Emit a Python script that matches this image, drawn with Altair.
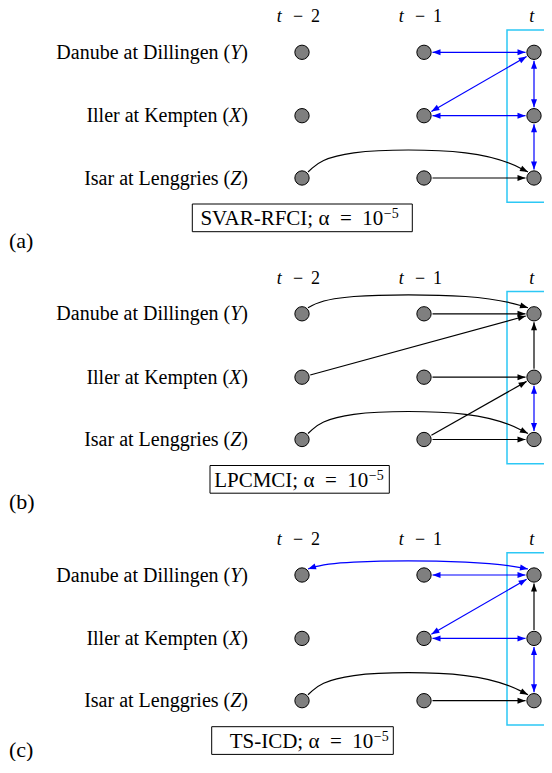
import math
import altair as alt
import pandas as pd

# ---------------- data ----------------
var_keys = ["Y", "X", "Z"]
var_names = ["Danube at Dillingen", "Iller at Kempten", "Isar at Lenggries"]
lags = [-2, -1, 0]
lag_digits = ["2", "1", ""]
methods = ["SVAR-RFCI", "LPCMCI", "TS-ICD"]
panel_tags = ["(a)", "(b)", "(c)"]
alpha_base = "; α\u2002=\u200210"
alpha_exp = "−5"

# edges: (source var, source lag, target var, target lag, kind)
edges_a = [("Y", -1, "Y", 0, "<->"), ("X", -1, "Y", 0, "<->"), ("X", -1, "X", 0, "<->"),
           ("X", 0, "Y", 0, "<->"), ("Z", 0, "X", 0, "<->"),
           ("Z", -2, "Z", 0, "->"), ("Z", -1, "Z", 0, "->")]
edges_b = [("Y", -2, "Y", 0, "->"), ("Y", -1, "Y", 0, "->"), ("X", -2, "Y", 0, "->"),
           ("X", 0, "Y", 0, "->"), ("X", -1, "X", 0, "->"), ("Z", -1, "X", 0, "->"),
           ("Z", 0, "X", 0, "<->"), ("Z", -2, "Z", 0, "->"), ("Z", -1, "Z", 0, "->")]
edges_c = [("Y", -2, "Y", 0, "<->"), ("Y", -1, "Y", 0, "<->"), ("X", -1, "Y", 0, "<->"),
           ("X", -1, "X", 0, "<->"), ("X", 0, "Y", 0, "->"), ("Z", 0, "X", 0, "<->"),
           ("Z", -2, "Z", 0, "->"), ("Z", -1, "Z", 0, "->")]
panel_edges = [edges_a, edges_b, edges_c]

# ---------------- layout (pixels) ----------------
COL_X = {-2: 302.0, -1: 424.0, 0: 534.0}
ROW_Y = {"Y": 52.3, "X": 115.7, "Z": 178.0}
PANEL_DY = [0.0, 261.5, 522.7]
TAG_Y = [248.0, 509.0, 756.5]
HDR_BASE = 22.3
R = 8.5
ARC_PEAK = {(0, "Z"): 28, (1, "Y"): 19, (1, "Z"): 28, (2, "Y"): 14, (2, "Z"): 28}
LABEL_RIGHT = 248.0
SYM_W = {"Y": 11.1, "X": 12.2, "Z": 11.1}
PAREN_W = 6.7
CAP_BOX = [(192.3, 412.3), (210.0, 389.3), (211.7, 393.3)]
CAP_SPLIT = [383.3, 368.3, 373.3]
FONT = "Liberation Serif"


def ang(dx, dy):
    return math.degrees(math.atan2(dx, -dy)) % 360


nodes, lines, heads = [], [], []
lab_main, lab_sym, lab_par = [], [], []
hdr_t, hdr_minus, hdr_dig = [], [], []
cap_rect, cap_txt, cap_sup, tags, cyan = [], [], [], [], []

for p, edges in enumerate(panel_edges):
    dy = PANEL_DY[p]
    for v, name in zip(var_keys, var_names):
        y = ROW_Y[v] + dy
        for l in lags:
            nodes.append(dict(x=COL_X[l], y=y))
        lab_main.append(dict(x=LABEL_RIGHT - PAREN_W - SYM_W[v], y=y + 6.5, t=name + " ("))
        lab_sym.append(dict(x=LABEL_RIGHT - PAREN_W, y=y + 6.5, t=v))
        lab_par.append(dict(x=LABEL_RIGHT, y=y + 6.5, t=")"))
    for l, dig in zip(lags, lag_digits):
        if dig:
            hdr_t.append(dict(x=COL_X[l] - 25.3, y=HDR_BASE + dy, t="t", a="left"))
            hdr_minus.append(dict(x=COL_X[l] - 4.0, y=HDR_BASE + dy, t="−"))
            hdr_dig.append(dict(x=COL_X[l] + 9.0, y=HDR_BASE + dy, t=dig))
        else:
            hdr_t.append(dict(x=COL_X[l] - 2.3, y=HDR_BASE + dy, t="t", a="center"))
    for k, (sv, sl, tv, tl, kind) in enumerate(edges):
        eid = f"{p}-{k}"
        x0, y0 = COL_X[sl], ROW_Y[sv] + dy
        x1, y1 = COL_X[tl], ROW_Y[tv] + dy
        if sv == tv and abs(sl - tl) == 2:
            a = math.radians(45)
            P0 = (x0 + R * math.cos(a), y0 - R * math.sin(a))
            P3 = (x1 - R * math.cos(a), y1 - R * math.sin(a))
            top = P0[1] - (ARC_PEAK[(p, sv)] - R * math.sin(a)) / 0.958
            P1 = (P0[0] + 25, top)
            P2 = (P3[0] - 45, top)
            pts = [P0, P1, P2, P3]
            d_end = (P3[0] - P2[0], P3[1] - P2[1])
            d_start = (P0[0] - P1[0], P0[1] - P1[1])
        else:
            ddx, ddy = x1 - x0, y1 - y0
            L = math.hypot(ddx, ddy)
            ux, uy = ddx / L, ddy / L
            P0 = (x0 + R * ux, y0 + R * uy)
            P3 = (x1 - R * ux, y1 - R * uy)
            pts = [P0, P3]
            d_end = (ux, uy)
            d_start = (-ux, -uy)
        for i, (x, y) in enumerate(pts):
            lines.append(dict(eid=eid, order=i, x=x, y=y, kind=kind))
        heads.append(dict(x=P3[0], y=P3[1], angle=ang(*d_end), kind=kind))
        if kind == "<->":
            heads.append(dict(x=P0[0], y=P0[1], angle=ang(*d_start), kind=kind))
    bx0, bx1 = CAP_BOX[p]
    cap_rect.append(dict(x=bx0, x2=bx1, y=204.0 + dy, y2=231.7 + dy))
    cap_txt.append(dict(x=CAP_SPLIT[p], y=225.0 + dy, t=methods[p] + alpha_base))
    cap_sup.append(dict(x=CAP_SPLIT[p] + 0.5, y=218.0 + dy, t=alpha_exp))
    tags.append(dict(x=9.0, y=TAG_Y[p], t=panel_tags[p]))
    cyan.append(dict(x=507.0, x2=600.0, y=30.0 + dy, y2=202.3 + dy))

xs = alt.Scale(domain=[8, 544])
ys = alt.Scale(domain=[8, 761], reverse=True)
X = alt.X("x:Q", scale=xs, axis=None)
Y = alt.Y("y:Q", scale=ys, axis=None)
X2 = alt.X2("x2:Q")
Y2 = alt.Y2("y2:Q")
kind_color = alt.Color("kind:N", scale=alt.Scale(domain=["->", "<->"], range=["#000000", "#0000FF"]), legend=None)


def txt(rows, **kw):
    return alt.Chart(pd.DataFrame(rows)).mark_text(font=FONT, color="black", clip=False, **kw).encode(x=X, y=Y, text="t:N")


cyan_layer = alt.Chart(pd.DataFrame(cyan)).mark_rect(fill=None, stroke="#2CC8F5", strokeWidth=1.5, clip=False).encode(x=X, x2=X2, y=Y, y2=Y2)
line_layer = alt.Chart(pd.DataFrame(lines)).mark_line(interpolate="basis", strokeWidth=1.2, clip=False).encode(
    x=X, y=Y, order="order:O", detail="eid:N", color=kind_color)
node_layer = alt.Chart(pd.DataFrame(nodes)).mark_circle(size=205, fill="#7F7F7F", stroke="black", strokeWidth=1, opacity=1, clip=False).encode(x=X, y=Y)
head_layer = alt.Chart(pd.DataFrame(heads)).mark_point(shape="M0,0L-0.375,1L0.375,1Z", filled=True, size=256, opacity=1, clip=False).encode(
    x=X, y=Y, angle=alt.Angle("angle:Q", scale=None), color=kind_color)
rect_layer = alt.Chart(pd.DataFrame(cap_rect)).mark_rect(fill="white", stroke="black", strokeWidth=1, clip=False).encode(x=X, x2=X2, y=Y, y2=Y2)

layers = [
    cyan_layer, line_layer, node_layer, head_layer, rect_layer,
    txt(lab_main, fontSize=20, align="right", baseline="alphabetic"),
    txt(lab_sym, fontSize=20, align="right", baseline="alphabetic", fontStyle="italic"),
    txt(lab_par, fontSize=20, align="right", baseline="alphabetic"),
    txt([r for r in hdr_t if r["a"] == "left"], fontSize=18, align="left", baseline="alphabetic", fontStyle="italic"),
    txt([r for r in hdr_t if r["a"] == "center"], fontSize=18, align="center", baseline="alphabetic", fontStyle="italic"),
    txt(hdr_minus, fontSize=18, align="center", baseline="alphabetic"),
    txt(hdr_dig, fontSize=18, align="left", baseline="alphabetic"),
    txt(cap_txt, fontSize=21, align="right", baseline="alphabetic"),
    txt(cap_sup, fontSize=14, align="left", baseline="alphabetic"),
    txt(tags, fontSize=22, align="left", baseline="alphabetic"),
]

chart = alt.layer(*layers).properties(
    width=536, height=753, padding=0, autosize="none"
).configure_view(stroke=None)

chart.save("out.html", embed_options={"renderer": "svg", "actions": False})
